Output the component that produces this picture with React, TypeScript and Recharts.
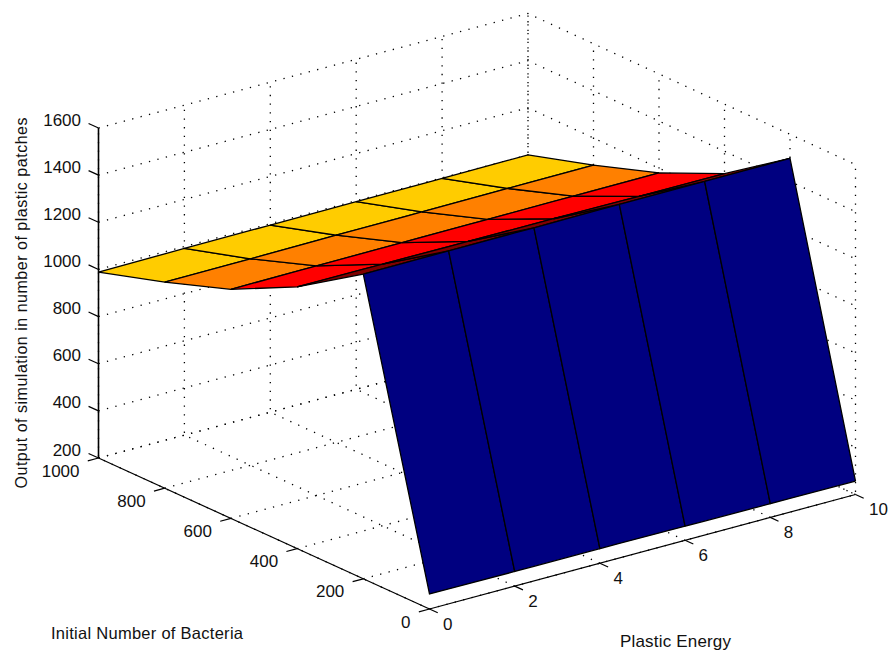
import { Area, ComposedChart, Line, Scatter, XAxis, YAxis } from 'recharts';

// surface samples
const plasticEnergy = [0, 2, 4, 6, 8, 10];
const initialBacteria = [0, 200, 400, 600, 800, 1000];
const patchesByBacteria = [
  [264, 262, 262, 260, 258, 257],
  [1493, 1494, 1495, 1497, 1497, 1498],
  [1310, 1310, 1309, 1308, 1306, 1305],
  [1172, 1174, 1176, 1177, 1179, 1180],
  [1074, 1076, 1079, 1081, 1083, 1085],
  [989, 992, 994, 996, 998, 1000],
];

const energyTicks = [0, 2, 4, 6, 8, 10];
const bacteriaTicks = [0, 200, 400, 600, 800, 1000];
const patchTicks = [200, 400, 600, 800, 1000, 1200, 1400, 1600];

const STRIP_COLORS = ['#000080', '#800000', '#FF0000', '#FF8000', '#FFCC00'];
const FONT = '"Liberation Sans", Arial, sans-serif';

const WIDTH = 888;
const HEIGHT = 654;

type Pt = { px: number; py: number };

// fixed MATLAB-style camera, with a touch of perspective at the back corner
const project = (energy: number, bacteria: number, patches: number): Pt => ({
  px: 429.5 + 42.6 * energy - 0.331 * bacteria + 0.00035 * energy * bacteria,
  py: 609 - 11.45 * energy - 0.151 * bacteria - (patches - 200) * 0.2357,
});

// a convex quad as an x-sorted [low, high] band, so Area can fill it
const toBand = (quad: Pt[]) => {
  const xs = [...new Set(quad.map((p) => p.px))].sort((a, b) => a - b);
  return xs.map((x) => {
    const hits: number[] = [];
    quad.forEach((a, i) => {
      const b = quad[(i + 1) % quad.length];
      const lo = Math.min(a.px, b.px);
      const hi = Math.max(a.px, b.px);
      if (x < lo || x > hi) return;
      if (hi === lo) hits.push(a.py, b.py);
      else hits.push(a.py + ((x - a.px) / (b.px - a.px)) * (b.py - a.py));
    });
    return { px: x, band: [Math.min(...hits), Math.max(...hits)] };
  });
};

const zMin = patchTicks[0];
const zMax = patchTicks[patchTicks.length - 1];
const xEnd = energyTicks[energyTicks.length - 1];
const yEnd = bacteriaTicks[bacteriaTicks.length - 1];

const gridLines: Pt[][] = [
  ...patchTicks.map((z) => [project(0, yEnd, z), project(xEnd, yEnd, z), project(xEnd, 0, z)]),
  ...energyTicks.map((x) => [project(x, 0, zMin), project(x, yEnd, zMin), project(x, yEnd, zMax)]),
  ...bacteriaTicks.map((y) => [project(0, y, zMin), project(xEnd, y, zMin), project(xEnd, y, zMax)]),
];

const axisLines: Pt[][] = [
  [project(0, yEnd, zMin), project(0, yEnd, zMax)],
  [project(0, yEnd, zMin), project(0, 0, zMin)],
  [project(0, 0, zMin), project(xEnd, 0, zMin)],
  ...patchTicks.map((z) => [project(0, yEnd, z), project(0, yEnd + 30, z)]),
  ...bacteriaTicks.map((y) => [project(0, y, zMin), project(-0.25, y, zMin)]),
  ...energyTicks.map((x) => [project(x, 0, zMin), project(x, -25, zMin)]),
];

// back strip first, the wall at low bacteria last
const faces: { color: string; band: { px: number; band: number[] }[] }[] = [];
for (let j = initialBacteria.length - 2; j >= 0; j--) {
  for (let i = 0; i < plasticEnergy.length - 1; i++) {
    const quad = [
      project(plasticEnergy[i], initialBacteria[j], patchesByBacteria[j][i]),
      project(plasticEnergy[i + 1], initialBacteria[j], patchesByBacteria[j][i + 1]),
      project(plasticEnergy[i + 1], initialBacteria[j + 1], patchesByBacteria[j + 1][i + 1]),
      project(plasticEnergy[i], initialBacteria[j + 1], patchesByBacteria[j + 1][i]),
    ];
    faces.push({ color: STRIP_COLORS[j], band: toBand(quad) });
  }
}

const tickLabels = [
  ...patchTicks.map((z) => {
    const p = project(0, yEnd, z);
    return { px: p.px - 17.5, py: p.py - 8, label: String(z), anchor: 'end' };
  }),
  ...bacteriaTicks.map((y) => {
    const p = project(0, y, zMin);
    return { px: p.px - 19, py: p.py + 13, label: String(y), anchor: 'end' };
  }),
  ...energyTicks.map((x) => {
    const p = project(x, 0, zMin);
    return { px: p.px + 13.5, py: p.py + 15, label: String(x), anchor: 'start' };
  }),
];

const renderTickLabel = (props: any) => (
  <text
    x={props.cx}
    y={props.cy}
    textAnchor={props.payload.anchor}
    dominantBaseline="central"
    fontFamily={FONT}
    fontSize={17}
    fill="#111"
  >
    {props.payload.label}
  </text>
);

export default function App() {
  return (
    <div style={{ position: 'absolute', left: 0, top: 0, width: WIDTH, height: HEIGHT, background: '#fff' }}>
      <ComposedChart width={WIDTH} height={HEIGHT} margin={{ top: 0, right: 0, bottom: 0, left: 0 }}>
        <XAxis type="number" dataKey="px" domain={[0, WIDTH]} allowDataOverflow hide />
        <YAxis type="number" dataKey="py" domain={[0, HEIGHT]} allowDataOverflow reversed hide />

        {gridLines.map((pts, i) => (
          <Line
            key={`grid-${i}`}
            data={pts}
            dataKey="py"
            stroke="#000"
            strokeWidth={1.3}
            strokeDasharray="1.3 7.4"
            dot={false}
            isAnimationActive={false}
            zIndex={50}
          />
        ))}
        {axisLines.map((pts, i) => (
          <Line
            key={`axis-${i}`}
            data={pts}
            dataKey="py"
            stroke="#000"
            strokeWidth={i === 0 ? 1.6 : 1.2}
            dot={false}
            isAnimationActive={false}
            zIndex={60}
          />
        ))}
        {faces.map((f, i) => (
          <Area
            key={`face-${i}`}
            data={f.band}
            dataKey="band"
            type="linear"
            fill={f.color}
            fillOpacity={1}
            stroke="#000"
            strokeWidth={1.3}
            dot={false}
            isAnimationActive={false}
            zIndex={100 + i}
          />
        ))}
        <Scatter data={tickLabels} dataKey="py" shape={renderTickLabel} isAnimationActive={false} />

        <text
          transform="translate(21,303) rotate(-90)"
          textAnchor="middle"
          dominantBaseline="central"
          fontFamily={FONT}
          fontSize={16}
          textLength={371}
          fill="#111"
        >
          Output of simulation in number of plastic patches
        </text>
        <text x={51} y={633} dominantBaseline="central" fontFamily={FONT} fontSize={16.5} textLength={192} fill="#111">
          Initial Number of Bacteria
        </text>
        <text x={620} y={641} dominantBaseline="central" fontFamily={FONT} fontSize={17} textLength={111} fill="#111">
          Plastic Energy
        </text>
      </ComposedChart>
    </div>
  );
}
